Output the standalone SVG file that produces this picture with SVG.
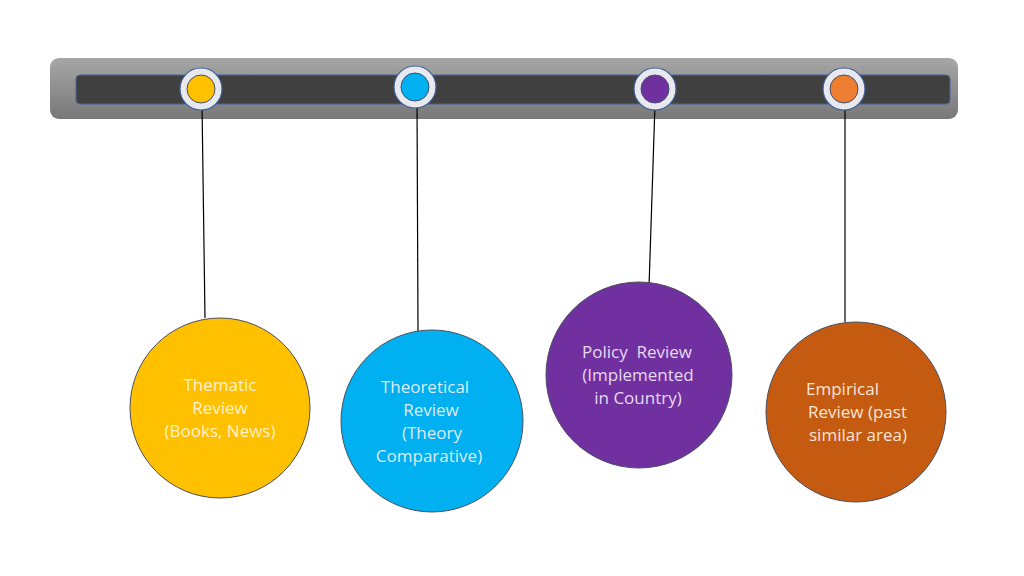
<svg xmlns="http://www.w3.org/2000/svg" width="1024" height="576" viewBox="0 0 1024 576">
<defs>
<linearGradient id="barg" x1="0" y1="0" x2="0" y2="1">
<stop offset="0" stop-color="#a6a6a6"/>
<stop offset="1" stop-color="#787878"/>
</linearGradient>
<style>
.ring{fill:#e8e9ee;stroke:#3f5f9a;stroke-width:1.2}
.dot{stroke:#3f4f6f;stroke-width:1}
.big{stroke:#4a5060;stroke-width:1}
.conn{stroke:#000;stroke-width:1.2;fill:none}
text{font-family:"Open Sans","Liberation Sans",sans-serif;font-size:17px}
</style>
</defs>
<rect width="1024" height="576" fill="#fff"/>
<g id="bar">
<rect x="50" y="58" width="908" height="61" rx="9" fill="url(#barg)"/>
<rect x="76" y="75" width="874" height="29" rx="4" fill="#404040" stroke="#44659e" stroke-width="1"/>
</g>
<g id="connectors">
<line class="conn" x1="202" y1="104" x2="205" y2="318"/>
<line class="conn" x1="417" y1="101" x2="418" y2="331"/>
<line class="conn" x1="655" y1="104" x2="649" y2="287"/>
<line class="conn" x1="845" y1="104" x2="845" y2="322"/>
</g>
<g id="marker1"><circle class="ring" cx="201" cy="89" r="21"/><circle class="dot" cx="201" cy="89" r="14" fill="#FFC000"/></g>
<g id="marker2"><circle class="ring" cx="415" cy="87" r="21"/><circle class="dot" cx="415" cy="87" r="14" fill="#00B0F0"/></g>
<g id="marker3"><circle class="ring" cx="655" cy="89" r="21"/><circle class="dot" cx="655" cy="89" r="14" fill="#7030A0"/></g>
<g id="marker4"><circle class="ring" cx="844" cy="89" r="21"/><circle class="dot" cx="844" cy="89" r="14" fill="#ED7D31"/></g>
<g id="node1">
<circle class="big" cx="220" cy="408" r="90" fill="#FFC000"/>
<text fill="#FFF2CC" text-anchor="middle"><tspan x="220" y="391">Thematic</tspan><tspan x="220" y="414">Review</tspan><tspan x="220" y="437">(Books, News)</tspan></text>
</g>
<g id="node2">
<circle class="big" cx="432" cy="421" r="91" fill="#00B0F0"/>
<text fill="#DEEBF7" text-anchor="middle"><tspan x="425" y="393">Theoretical</tspan><tspan x="431" y="416">Review</tspan><tspan x="432" y="439">(Theory</tspan><tspan x="429" y="462">Comparative)</tspan></text>
</g>
<g id="node3">
<circle class="big" cx="639" cy="375" r="93" fill="#7030A0"/>
<text fill="#E6DAF0" text-anchor="middle" xml:space="preserve"><tspan x="637" y="358">Policy  Review</tspan><tspan x="638" y="381">(Implemented</tspan><tspan x="638" y="404">in Country)</tspan></text>
</g>
<g id="node4">
<circle class="big" cx="856" cy="412" r="90" fill="#C55A11"/>
<text fill="#FBE5D6"><tspan x="806" y="395">Empirical</tspan><tspan x="808" y="418">Review (past</tspan><tspan x="809" y="441">similar area)</tspan></text>
</g>
</svg>
